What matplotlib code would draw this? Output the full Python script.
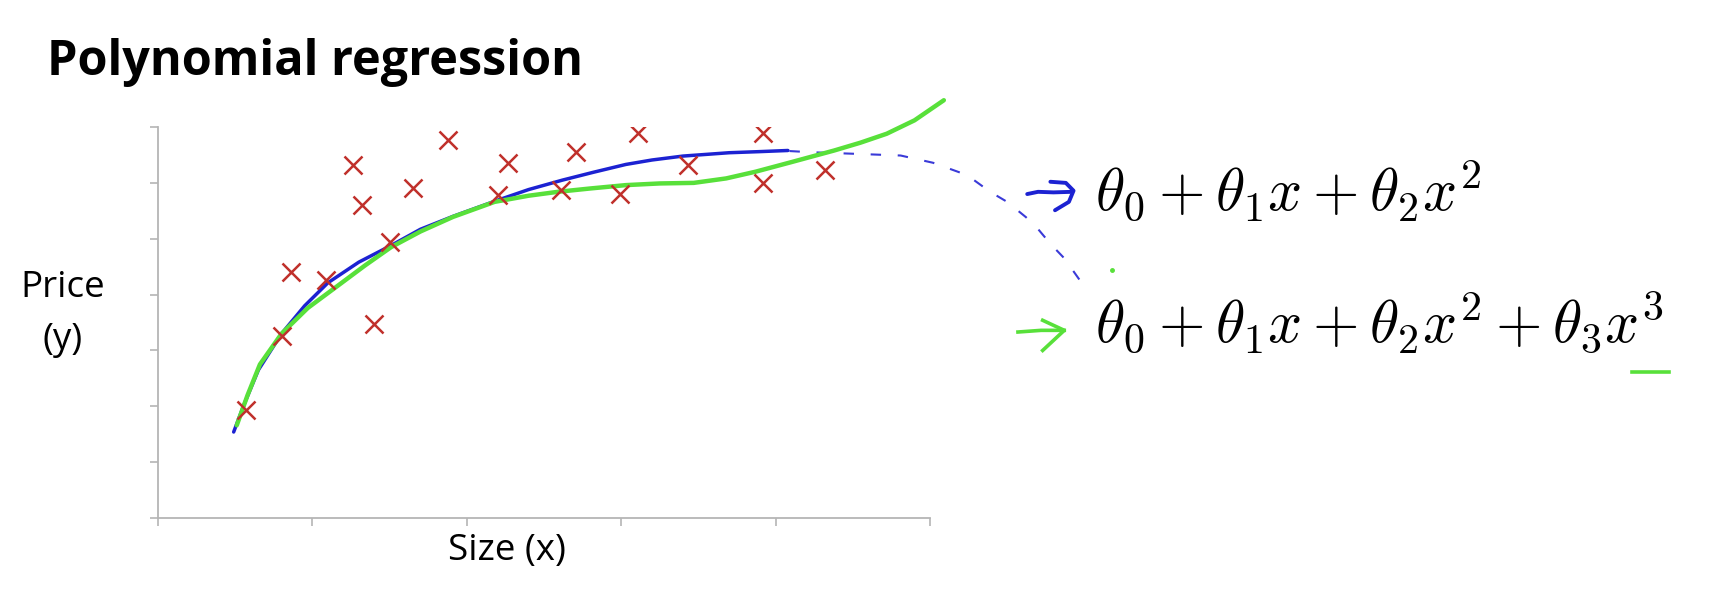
import numpy as np
import matplotlib.pyplot as plt

plt.rcParams['mathtext.fontset'] = 'cm'

# training examples (axis units: one unit per tick)
size = [0.57, 0.80, 0.86, 1.09, 1.26, 1.32, 1.40, 1.50, 1.65, 1.88,
        2.20, 2.27, 2.61, 2.71, 2.99, 3.11, 3.43, 3.92, 3.92, 4.32]
price = [1.94, 3.26, 4.41, 4.26, 6.32, 5.60, 3.48, 4.94, 5.90, 6.76,
         5.78, 6.35, 5.87, 6.55, 5.80, 6.89, 6.32, 6.90, 5.99, 6.23]

# hand drawn quadratic fit (blue) and its dashed continuation
quad_x = [0.49, 0.56, 0.65, 0.80, 0.95, 1.10, 1.30, 1.51, 1.70, 1.91,
          2.20, 2.40, 2.62, 2.82, 3.03, 3.20, 3.40, 3.70, 3.90, 4.08]
quad_y = [1.54, 2.05, 2.65, 3.30, 3.80, 4.21, 4.58, 4.88, 5.17, 5.40,
          5.69, 5.88, 6.05, 6.19, 6.33, 6.41, 6.48, 6.54, 6.56, 6.58]
quad_ext_x = [4.09, 4.22, 4.52, 4.81, 5.02, 5.24, 5.39, 5.50, 5.62,
              5.68, 5.78, 5.87, 5.97]
quad_ext_y = [6.57, 6.55, 6.52, 6.49, 6.36, 6.14, 5.84, 5.66, 5.39,
              5.24, 4.91, 4.65, 4.26]

# hand drawn cubic fit (green)
cubic_x = [0.51, 0.58, 0.66, 0.80, 0.97, 1.17, 1.34, 1.51, 1.70, 1.91,
           2.18, 2.40, 2.59, 2.80, 3.03, 3.25, 3.47, 3.68, 3.87, 4.10,
           4.38, 4.55, 4.72, 4.90, 5.09]
cubic_y = [1.66, 2.20, 2.75, 3.30, 3.76, 4.17, 4.52, 4.85, 5.13, 5.39,
           5.66, 5.77, 5.84, 5.90, 5.96, 5.99, 6.00, 6.08, 6.20, 6.37,
           6.58, 6.72, 6.88, 7.12, 7.48]

# little pen strokes next to the formulas
blue_arrow_x = [5.63, 5.70, 5.80, 5.92]
blue_arrow_y = [5.80, 5.84, 5.83, 5.84]
blue_head_x = [5.78, 5.88, 5.93, 5.90, 5.81]
blue_head_y = [6.02, 6.00, 5.86, 5.66, 5.51]
green_arrow_x = [5.57, 5.72, 5.87]
green_arrow_y = [3.33, 3.36, 3.36]
green_head_x = [5.73, 5.87, 5.73]
green_head_y = [3.54, 3.36, 3.00]
green_line_x = [9.55, 9.79]
green_line_y = [2.62, 2.62]

fig = plt.figure(figsize=(17.12, 5.90), dpi=100)
ax = fig.add_axes([0.0923, 0.1220, 0.4509, 0.6627])

ax.plot(size, price, 'x', color='#c0302b', ms=13, mew=1.8, zorder=4)
ax.plot(quad_x, quad_y, color='#1c22d2', lw=2.5, zorder=3,
        solid_capstyle='round', clip_on=False)
ax.plot(quad_ext_x, quad_ext_y, color='#3a3ad8', lw=1.5, ls=(0, (5, 8)),
        clip_on=False)
ax.plot(cubic_x, cubic_y, color='#58e03a', lw=3.2, zorder=3,
        solid_capstyle='round', clip_on=False)

ax.plot(blue_arrow_x, blue_arrow_y, color='#1c22d2', lw=2.8, clip_on=False,
        solid_capstyle='round')
ax.plot(blue_head_x, blue_head_y, color='#1c22d2', lw=2.8, clip_on=False,
        solid_capstyle='round')
ax.plot(green_arrow_x, green_arrow_y, color='#58e03a', lw=2.6, clip_on=False)
ax.plot(green_head_x, green_head_y, color='#58e03a', lw=2.6, clip_on=False)
ax.plot(green_line_x, green_line_y, color='#58e03a', lw=2.6, clip_on=False)
ax.plot([6.18], [4.44], '.', color='#58e03a', ms=5, clip_on=False)

ax.set_xlim(0, 5)
ax.set_ylim(0, 7)
ax.set_xticks(range(6))
ax.set_yticks(range(8))
ax.set_xticklabels([])
ax.set_yticklabels([])
ax.tick_params(direction='out', length=6, width=1.2, color='#b5b5b5')
for side in ['top', 'right']:
    ax.spines[side].set_visible(False)
for side in ['left', 'bottom']:
    ax.spines[side].set_color('#b5b5b5')
    ax.spines[side].set_linewidth(1.3)

fig.text(47 / 1712, 0.873, 'Polynomial regression', fontsize=35,
         fontweight='bold', family='Open Sans', va='baseline')
fig.text(63 / 1712, 1 - 297 / 590, 'Price', fontsize=26.5, family='Open Sans',
         ha='center', va='baseline')
fig.text(63 / 1712, 1 - 349 / 590, '(y)', fontsize=26.5, family='Open Sans',
         ha='center', va='baseline')
fig.text(507 / 1712, 1 - 560 / 590, 'Size (x)', fontsize=26.5,
         family='Open Sans', ha='center', va='baseline')

fig.text(1095 / 1712, 1 - 211 / 590, r'$\theta_0 + \theta_1 x + \theta_2 x^2$',
         fontsize=43, va='baseline')
fig.text(1095 / 1712, 1 - 343 / 590,
         r'$\theta_0 + \theta_1 x + \theta_2 x^2 + \theta_3 x^3$',
         fontsize=43, va='baseline')

fig.savefig('out.png', dpi=100)
